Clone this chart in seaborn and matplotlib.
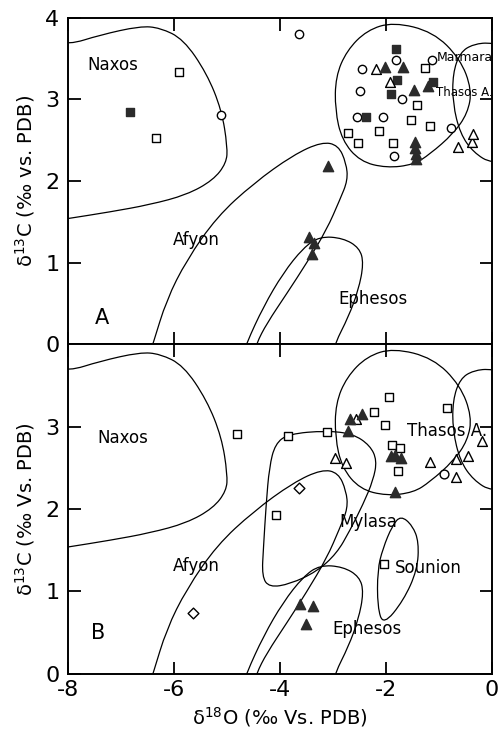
import numpy as np
import pandas as pd
import matplotlib
matplotlib.use("Agg")
import matplotlib.pyplot as plt
from matplotlib.path import Path
from matplotlib.patches import PathPatch
import seaborn as sns

# ---------------- data: panel A ----------------
A_open_circle_x = [-3.64, -5.11, -2.46, -2.49, -1.81, -1.70, -2.06, -2.54, -1.84, -1.14, -0.78]
A_open_circle_y = [3.80, 2.81, 3.38, 3.11, 3.49, 3.00, 2.79, 2.79, 2.31, 3.49, 2.65]
A_open_square_x = [-5.91, -6.34, -1.26, -1.42, -1.52, -1.17, -2.13, -2.72, -2.52, -1.86]
A_open_square_y = [3.34, 2.53, 3.39, 2.93, 2.75, 2.67, 2.61, 2.59, 2.47, 2.47]
A_fill_square_x = [-6.82, -1.82, -1.80, -1.90, -2.38, -1.11]
A_fill_square_y = [2.85, 3.62, 3.24, 3.07, 2.79, 3.21]
A_fill_tri_x = [-3.09, -3.45, -3.36, -3.39, -2.01, -1.68, -1.48, -1.20, -1.45, -1.45, -1.44, -1.43]
A_fill_tri_y = [2.18, 1.31, 1.24, 1.11, 3.40, 3.40, 3.12, 3.17, 2.48, 2.40, 2.33, 2.27]
A_open_tri_x = [-2.19, -1.92, -0.64, -0.38, -0.35]
A_open_tri_y = [3.37, 3.22, 2.42, 2.48, 2.58]

# ---------------- data: panel B ----------------
B_open_square_x = [-4.81, -3.84, -3.12, -4.08, -1.94, -2.23, -2.01, -1.89, -1.74, -1.78, -0.85, -2.03]
B_open_square_y = [2.91, 2.88, 2.93, 1.93, 3.36, 3.17, 3.02, 2.78, 2.74, 2.46, 3.22, 1.33]
B_fill_tri_x = [-2.68, -2.46, -2.71, -1.90, -1.83, -1.72, -1.83, -3.62, -3.38, -3.51]
B_fill_tri_y = [3.09, 3.15, 2.94, 2.64, 2.66, 2.62, 2.20, 0.85, 0.83, 0.61]
B_open_tri_x = [-2.57, -2.96, -2.75, -1.17, -0.68, -0.46, -0.18, -0.68]
B_open_tri_y = [3.09, 2.62, 2.56, 2.57, 2.61, 2.64, 2.82, 2.39]
B_open_circle_x = [-0.91]
B_open_circle_y = [2.42]
B_open_diamond_x = [-3.64, -5.64]
B_open_diamond_y = [2.26, 0.74]

# ---------------- source-field outlines ----------------
naxos_x = [-8.4, -7.99, -7.40, -6.64, -6.26, -5.82, -5.38, -5.10, -4.99, -5.01, -5.26, -5.76, -6.45, -7.21, -7.99, -8.4, -9.0]
naxos_y = [3.75, 3.67, 3.79, 3.90, 3.88, 3.74, 3.32, 2.87, 2.42, 2.22, 2.01, 1.83, 1.71, 1.62, 1.54, 1.50, 2.6]
afyon_x = [-6.55, -6.39, -6.14, -5.76, -5.19, -4.50, -3.75, -3.21, -2.90, -2.75, -2.72, -2.87, -3.12, -3.50, -3.87, -4.25, -4.44, -4.60, -5.5]
afyon_y = [-0.30, 0.01, 0.54, 1.03, 1.56, 1.97, 2.32, 2.48, 2.44, 2.22, 2.01, 1.77, 1.40, 0.99, 0.62, 0.25, 0.01, -0.30, -0.6]
ephesos_x = [-4.80, -4.63, -4.31, -3.94, -3.56, -3.25, -2.81, -2.50, -2.42, -2.52, -2.71, -2.96, -3.10, -4.0]
ephesos_y = [-0.30, 0.01, 0.46, 0.87, 1.18, 1.32, 1.30, 1.18, 0.99, 0.66, 0.33, 0.01, -0.30, -0.6]
marmara_x = [-1.86, -1.11, -0.60, -0.38, -0.46, -0.73, -1.17, -1.48, -1.99, -2.49, -2.83, -2.96, -2.95, -2.74, -2.36]
marmara_y = [3.95, 3.83, 3.50, 3.12, 2.83, 2.58, 2.33, 2.20, 2.16, 2.24, 2.50, 2.87, 3.28, 3.60, 3.85]
thasos_x = [0.0, -0.35, -0.60, -0.74, -0.74, -0.60, -0.35, 0.0, 0.5, 0.5]
thasos_y = [3.70, 3.68, 3.58, 3.32, 2.95, 2.58, 2.35, 2.21, 2.3, 3.6]
mylasa_x = [-3.84, -3.12, -2.62, -2.30, -2.17, -2.24, -2.43, -2.68, -2.93, -3.31, -3.81, -4.20, -4.34, -4.31, -4.26, -4.20, -4.09]
mylasa_y = [2.91, 2.95, 2.91, 2.77, 2.59, 2.35, 2.06, 1.74, 1.46, 1.24, 1.09, 1.05, 1.18, 1.54, 2.06, 2.51, 2.79]
sounion_x = [-1.72, -1.50, -1.38, -1.41, -1.67, -2.05, -2.16, -2.16, -2.06, -1.88]
sounion_y = [1.92, 1.80, 1.60, 1.26, 0.89, 0.59, 0.81, 1.26, 1.52, 1.80]

# ---------------- text labels ----------------
A_labels = [("Naxos", -7.15, 3.42), ("Afyon", -5.57, 1.27), ("Ephesos", -2.24, 0.55)]
B_labels = [("Naxos", -6.96, 2.86), ("Afyon", -5.57, 1.31), ("Mylasa", -2.33, 1.84),
            ("Sounion", -1.20, 1.28), ("Ephesos", -2.36, 0.54)]

sns.set_style("ticks")
plt.rcParams['font.family'] = ['DejaVu Sans']
plt.rcParams['mathtext.fontset'] = 'dejavusans'
plt.rcParams['text.color'] = 'black'
plt.rcParams['axes.labelcolor'] = 'black'
plt.rcParams['xtick.color'] = 'black'
plt.rcParams['ytick.color'] = 'black'
plt.rcParams['axes.edgecolor'] = 'black'

fig = plt.figure(figsize=(4.99, 7.31), dpi=100)
axA = fig.add_axes([0.136, 0.5294, 0.850, 0.446])
axB = fig.add_axes([0.136, 0.078, 0.850, 0.4514])


def smooth_closed(xs, ys):
    pts = np.column_stack([xs, ys])
    n = len(pts)
    mids = (pts + np.roll(pts, -1, axis=0)) / 2
    verts = [mids[-1]]
    codes = [Path.MOVETO]
    for i in range(n):
        verts += [pts[i], mids[i]]
        codes += [Path.CURVE3, Path.CURVE3]
    return Path(verts, codes)


def outline(ax, xs, ys):
    ax.add_patch(PathPatch(smooth_closed(xs, ys), facecolor='none', edgecolor='black',
                           lw=0.9, zorder=1))


def pts(ax, xs, ys, marker, filled, s):
    sns.scatterplot(x=xs, y=ys, ax=ax, marker=marker, s=s,
                    color=('#2b2b2b' if filled else 'white'),
                    edgecolor=('#2b2b2b' if filled else 'black'),
                    linewidth=1.0, zorder=3, legend=False)


# panel A
for xs, ys in [(naxos_x, naxos_y), (afyon_x, afyon_y), (ephesos_x, ephesos_y),
               (marmara_x, marmara_y), (thasos_x, thasos_y)]:
    outline(axA, xs, ys)
pts(axA, A_open_circle_x, A_open_circle_y, 'o', False, 36)
pts(axA, A_open_square_x, A_open_square_y, 's', False, 36)
pts(axA, A_fill_square_x, A_fill_square_y, 's', True, 40)
pts(axA, A_open_tri_x, A_open_tri_y, '^', False, 50)
pts(axA, A_fill_tri_x, A_fill_tri_y, '^', True, 55)

# panel B
for xs, ys in [(naxos_x, naxos_y), (afyon_x, afyon_y), (ephesos_x, ephesos_y),
               (marmara_x, marmara_y), (thasos_x, thasos_y), (mylasa_x, mylasa_y),
               (sounion_x, sounion_y)]:
    outline(axB, xs, ys)
pts(axB, B_open_square_x, B_open_square_y, 's', False, 36)
pts(axB, B_open_circle_x, B_open_circle_y, 'o', False, 40)
pts(axB, B_open_diamond_x, B_open_diamond_y, 'D', False, 30)
pts(axB, B_open_tri_x, B_open_tri_y, '^', False, 50)
pts(axB, B_fill_tri_x, B_fill_tri_y, '^', True, 55)

for name, x, y in A_labels:
    axA.text(x, y, name, fontsize=12, ha='center', va='center', zorder=4)
for name, x, y in B_labels:
    axB.text(x, y, name, fontsize=12, ha='center', va='center', zorder=4)
axA.text(-1.04, 3.51, "Marmara", fontsize=9, ha='left', va='center', zorder=4)
axA.text(-1.06, 3.08, "Thasos A.", fontsize=8.5, ha='left', va='center', zorder=4)
axB.text(-0.85, 2.95, "Thasos A.", fontsize=12, ha='center', va='center', zorder=4)
axA.text(-7.35, 0.32, "A", fontsize=15, ha='center', va='center')
axB.text(-7.43, 0.50, "B", fontsize=15, ha='center', va='center')

for ax in (axA, axB):
    ax.set_xlim(-8, 0)
    ax.set_ylim(0, 4)
    for sp in ax.spines.values():
        sp.set_linewidth(1.4)
        sp.set_visible(True)
        sp.set_color('black')
    ax.tick_params(direction='in', length=9, width=1.3, top=True, right=True,
                   labelsize=16, pad=6, colors='black')
    ax.set_xticks([-8, -6, -4, -2, 0])

axA.set_yticks([0, 1, 2, 3, 4])
axA.set_xticklabels([])
axB.set_yticks([0, 1, 2, 3])
axB.set_xticklabels(['-8', '-6', '-4', '-2', '0'])
axB.tick_params(axis='x', pad=4)

axA.set_ylabel("δ$^{13}$C (‰ vs. PDB)", fontsize=14, labelpad=6)
axB.set_ylabel("δ$^{13}$C (‰ Vs. PDB)", fontsize=14, labelpad=6)
axB.set_xlabel("δ$^{18}$O (‰ Vs. PDB)", fontsize=14, labelpad=4)

fig.savefig("out.png", dpi=100, facecolor='white')
